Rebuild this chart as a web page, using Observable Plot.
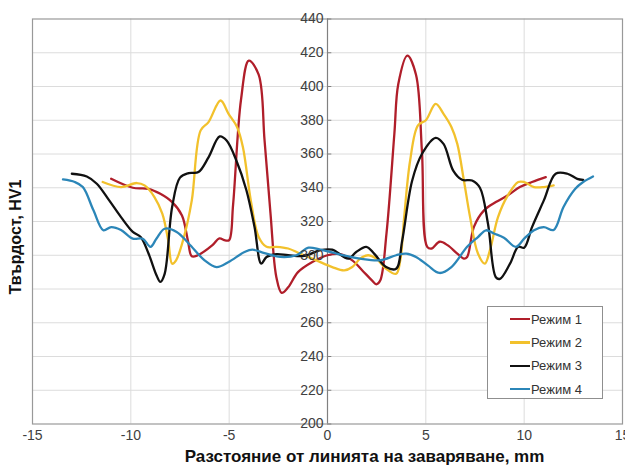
<!DOCTYPE html>
<html>
<head>
<meta charset="utf-8">
<script src="https://cdn.jsdelivr.net/npm/d3@7"></script>
<script src="https://cdn.jsdelivr.net/npm/@observablehq/plot@0.6"></script>
<style>
  body { margin: 0; background: #fff; }
  #wrap { position: relative; width: 625px; height: 470px; font-family: "Liberation Sans", Arial, sans-serif; overflow: hidden; }
  #legend { position: absolute; left: 487px; top: 306px; width: 116px; height: 93px; border: 1px solid #8f8f8f; background: #fff; box-sizing: border-box; }
  .item { position: absolute; left: 22px; height: 16px; display: flex; align-items: center; font-size: 13px; color: #333; }
  .sw { width: 20px; height: 2.5px; margin-right: 1px; }
  #ytitle { position: absolute; left: 16px; top: 237px; transform: translate(-50%, -50%) rotate(-90deg); white-space: nowrap; font-weight: bold; font-size: 16px; color: #111; }
</style>
</head>
<body>
<div id="wrap"></div>
<script>
const seriesNames = ["Режим 1", "Режим 2", "Режим 3", "Режим 4"];
const seriesColors = ["#b01e2a", "#f2c12c", "#111111", "#2b86b8"];

const x1 = [-11.0,-9.9,-9.1,-8.5,-7.9,-7.4,-7.1,-6.9,-6.6,-5.85,-5.5,-5.2,-5.0,-4.8,-4.4,-4.0,-3.5,-3.2,-2.9,-2.6,-2.33,-2.0,-1.5,-0.77,0,0.65,1.26,1.77,2.27,2.48,2.68,3.0,3.4,3.6,4.06,4.5,4.8,5.07,5.3,5.7,6.1,6.6,6.94,7.1,7.45,7.96,8.56,9.17,9.78,10.4,11.1];
const y1 = [345.3,340,339.4,336.4,331.5,323.6,308.8,299.4,300,306,310,308.8,309,330,392,415.3,407,368,325,287,277.7,281,290,296,300,300.6,297,291,285,282.8,285,313,372,401.5,418.3,407,362,305,304,308,306,301,298,299,317,326.6,331.5,335.5,340.4,343.4,346.3];

const x2 = [-11.43,-10.5,-9.7,-9.3,-8.8,-8.4,-8.1,-7.9,-7.7,-7.3,-6.9,-6.45,-6.05,-5.44,-5.03,-4.6,-4.3,-3.9,-3.5,-3.1,-2.6,-2.0,-1.4,-0.57,0.24,0.85,1.26,1.66,2.07,2.48,2.98,3.49,3.7,3.9,4.2,4.6,5.0,5.5,5.9,6.3,6.6,6.94,7.25,7.65,8.0,8.26,8.67,9.17,9.7,10.0,10.5,11.0,11.5];
const y2 = [343.4,340.4,342.8,341.4,334.5,324.6,308.8,295,297,310.8,332.5,374,378.9,391.7,383.8,376,364,332.5,310.8,305,305,304,301,297,293,291,293,298,300,298,292,289,297,322.6,356,377,380,389.7,383.8,376,366,344,322.6,301,295,303,322.6,335.5,343.4,343.4,340.4,340.4,341.4];

const x3 = [-13.0,-12.24,-11.73,-11.1,-10.5,-9.9,-9.5,-9.1,-8.69,-8.5,-8.28,-7.9,-7.5,-7.06,-6.56,-6.05,-5.48,-5.13,-4.63,-4.12,-3.71,-3.37,-3.1,-2.6,-2.0,-1.18,-0.37,0.24,1.06,1.46,1.97,2.37,2.98,3.49,3.8,4.3,4.8,5.5,5.9,6.4,6.84,7.35,7.75,8.16,8.56,8.77,9.28,9.7,10.0,10.4,11.0,11.6,12.2,12.7,13.0];
const y3 = [348.3,346.7,342.4,332.5,322.6,313.8,310.8,301,288,284.2,289,328.6,346,348.7,349.3,358,370.4,368,356,338.4,316.7,295,299,300.6,300,299.6,303,303.3,298,301.9,305,301,293,292,308.8,344,360,369.6,366,350,344.7,344.3,340,318.7,287,286,295,305,304.5,316.7,332.5,348.3,348.3,345.3,344.7];

const x4 = [-13.45,-12.85,-12.44,-11.9,-11.4,-11.0,-10.5,-9.9,-9.4,-9.0,-8.7,-8.28,-7.67,-7.06,-6.25,-5.64,-5.03,-4.22,-3.82,-3.2,-2.4,-1.58,-0.97,-0.37,0.45,1.66,2.68,3.49,4.0,4.5,5.1,5.7,6.3,7.1,7.65,8.06,8.46,8.97,9.58,10.0,10.5,11.0,11.5,12.0,12.6,13.0,13.5];
const y4 = [344.9,343.4,340.4,326.6,314.8,316.7,315,309.8,309.8,305,309.8,315.7,313.8,307,297,293,296,301.9,303.3,301.3,299,300,304.5,303.3,301,298,297,300,301,299,294,289.5,293,305,310.8,314.8,312.9,310.4,305,309.8,314.8,316.7,315,328.6,339.4,343.4,346.7];

const xTicks = [-15, -10, -5, 0, 5, 10, 15];
const yTicks = [200, 220, 240, 260, 280, 300, 320, 340, 360, 380, 400, 420, 440];
const xTitle = "Разстояние от линията на заваряване, mm";
const yTitle = "Твърдост, HV1";

const xs = [x1, x2, x3, x4];
const ys = [y1, y2, y3, y4];
const data = [];
seriesNames.forEach((name, i) => {
  xs[i].forEach((x, j) => data.push({series: name, x, y: ys[i][j]}));
});

const chart = Plot.plot({
  width: 625,
  height: 470,
  marginLeft: 32,
  marginRight: 3,
  marginTop: 18.5,
  marginBottom: 46.5,
  style: {fontFamily: "Liberation Sans, Arial, sans-serif", fontSize: "14px", background: "#fff", overflow: "visible"},
  x: {domain: [-15, 15], axis: null},
  y: {domain: [200, 440], axis: null},
  color: {domain: seriesNames, range: seriesColors},
  marks: [
    Plot.ruleX(xTicks.filter(d => d !== 0 && Math.abs(d) !== 15), {stroke: "#dcdcdc", strokeWidth: 1}),
    Plot.ruleY(yTicks.filter(d => d !== 200 && d !== 440), {stroke: "#dcdcdc", strokeWidth: 1}),
    Plot.frame({stroke: "#999", strokeWidth: 1.2}),
    Plot.ruleX([0], {stroke: "#808080", strokeWidth: 1.2}),
    Plot.ruleY(yTicks, {x1: 0, x2: 0.22, stroke: "#808080", strokeWidth: 1}),
    Plot.text(xTicks, {x: d => d, frameAnchor: "bottom", dy: 16, text: d => String(d), fontSize: 14, fill: "#404040"}),
    Plot.line(data, {x: "x", y: "y", z: "series", stroke: "series", strokeWidth: 2.3, curve: "catmull-rom"}),
    Plot.text(yTicks, {x: 0, y: d => d, text: d => String(d), dx: -4, textAnchor: "end", fontSize: 14, fill: "#404040"}),
    Plot.text([xTitle], {frameAnchor: "bottom", dx: 37, dy: 38, text: d => d, fontWeight: "bold", fontSize: 17, fill: "#111"})
  ]
});

const wrap = document.getElementById("wrap");
wrap.appendChild(chart);

const yt = document.createElement("div");
yt.id = "ytitle";
yt.textContent = yTitle;
wrap.appendChild(yt);

const legend = document.createElement("div");
legend.id = "legend";
seriesNames.forEach((name, i) => {
  const item = document.createElement("div");
  item.className = "item";
  item.style.top = (4 + i * 23.4) + "px";
  const sw = document.createElement("span");
  sw.className = "sw";
  sw.style.background = seriesColors[i];
  const t = document.createElement("span");
  t.textContent = name;
  item.appendChild(sw);
  item.appendChild(t);
  legend.appendChild(item);
});
wrap.appendChild(legend);
</script>
</body>
</html>
